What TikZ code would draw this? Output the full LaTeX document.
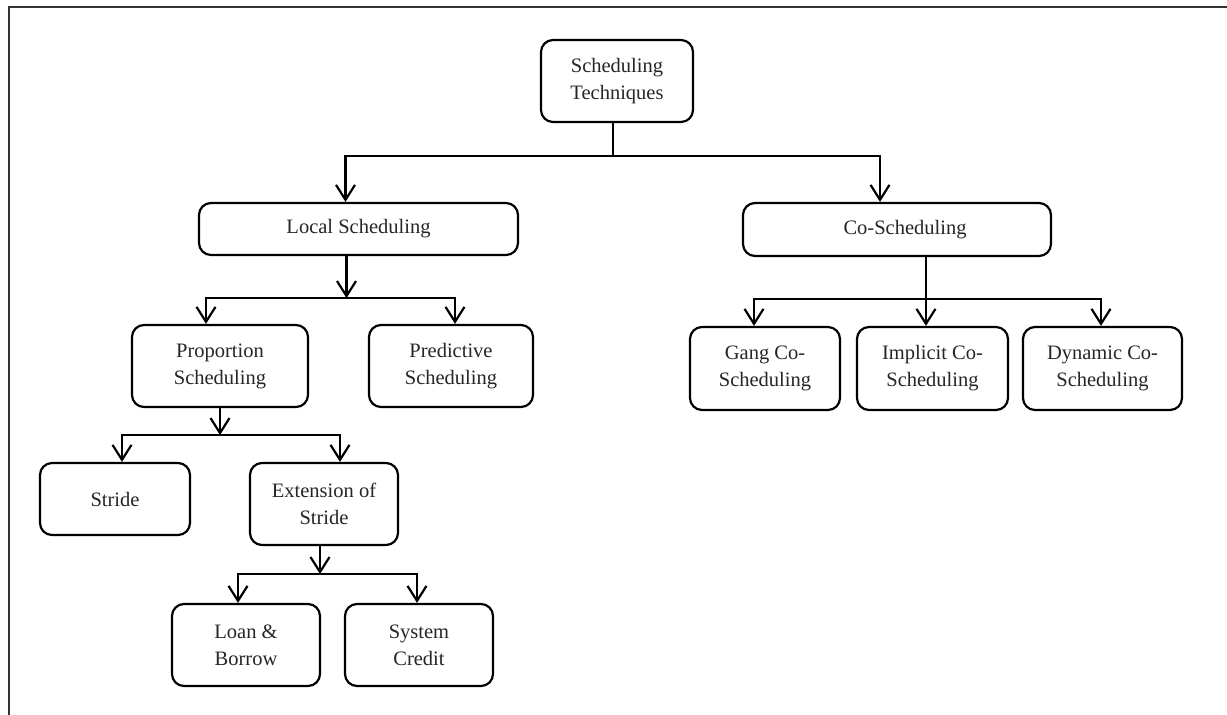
\documentclass[tikz,border=0pt]{standalone}
\usepackage{fontspec}
\setmainfont{Liberation Serif}
\usetikzlibrary{arrows.meta}
\tikzset{
  box/.style={draw, line width=2.2pt, rounded corners=12pt, inner sep=0pt, align=center,
    font=\fontsize{20.5}{27}\selectfont, text=black!85},
  arr/.style={line width=2.2pt, -{Straight Barb[length=15pt,width=19pt]}},
  ln/.style={line width=2.2pt},
  frame/.style={line width=2pt, draw=black!80}
}
\begin{document}
\begin{tikzpicture}[x=1pt,y=-1pt]
\useasboundingbox (0,0) rectangle (1227,715);
\fill[white] (0,0) rectangle (1227,715);
\draw[frame] (9,715) -- (9,7) -- (1227,7);

\node[box, minimum width=152, minimum height=82] (top) at (617,81) {Scheduling\\Techniques};
\node[box, minimum width=319, minimum height=52] (local) at (358.5,229) {Local Scheduling};
\node[box, minimum width=308, minimum height=53] (co) at (897,229.5) {\hspace*{16pt}Co-Scheduling};
\node[box, minimum width=176, minimum height=82] (prop) at (220,366) {Proportion\\Scheduling};
\node[box, minimum width=164, minimum height=82] (pred) at (451,366) {Predictive\\Scheduling};
\node[box, minimum width=150, minimum height=72] (stride) at (115,499) {Stride};
\node[box, minimum width=148, minimum height=82] (ext) at (324,504) {Extension of\\Stride};
\node[box, minimum width=148, minimum height=82] (loan) at (246,645) {Loan \&\\Borrow};
\node[box, minimum width=148, minimum height=82] (credit) at (419,645) {System\\Credit};
\node[box, minimum width=150, minimum height=83] (gang) at (765,368.5) {Gang Co-\\Scheduling};
\node[box, minimum width=151, minimum height=83] (impl) at (932.5,368.5) {Implicit Co-\\Scheduling};
\node[box, minimum width=159, minimum height=83] (dyn) at (1102.5,368.5) {Dynamic Co-\\Scheduling};

% top level
\draw[ln] ([xshift=-4]top.south) -- ++(0,33) coordinate (b1);
\draw[arr] (b1) -| ([xshift=-13]local.north);
\draw[arr] (b1) -| ([xshift=-17]co.north);

% local scheduling
\draw[arr] ([xshift=-12]local.south) -- ++(0,42) coordinate (b2);
\draw[arr] (b2) -| ([xshift=-14]prop.north);
\draw[arr] (b2) -| ([xshift=4]pred.north);

% co-scheduling
\draw[ln] ([xshift=29]co.south) -- ++(0,41.5) coordinate (b3);
\draw[arr] (b3) -| ([xshift=-11]gang.north);
\draw[arr] (b3) -- (b3 |- impl.north);
\draw[arr] (b3) -| ([xshift=-1.5]dyn.north);

% proportion scheduling
\draw[arr] (prop.south) -- ++(0,27) coordinate (b4);
\draw[arr] (b4) -| ([xshift=7]stride.north);
\draw[arr] (b4) -| ([xshift=16]ext.north);

% extension of stride
\draw[arr] ([xshift=-4]ext.south) -- ++(0,28) coordinate (b5);
\draw[arr] (b5) -| ([xshift=-8]loan.north);
\draw[arr] (b5) -| ([xshift=-2]credit.north);
\end{tikzpicture}
\end{document}
